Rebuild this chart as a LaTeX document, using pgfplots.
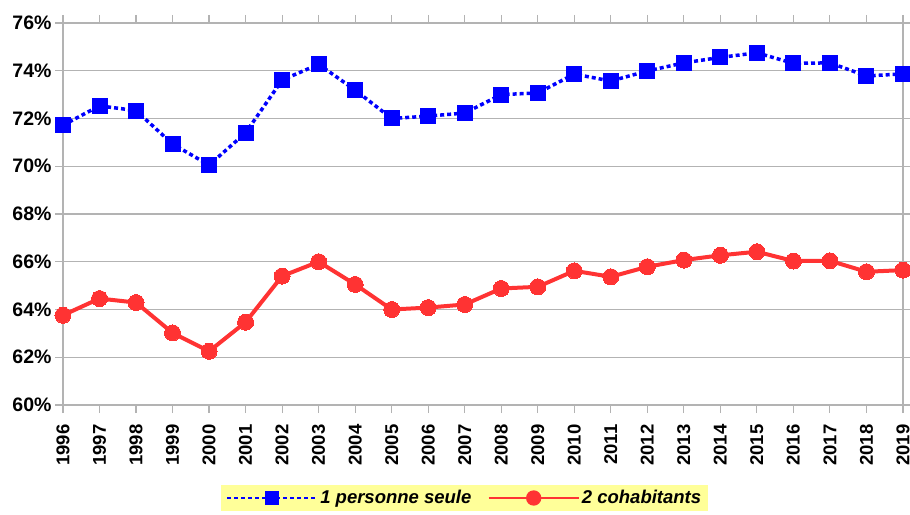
\documentclass[border=0pt]{standalone}
\usepackage{pgfplots}
\pgfplotsset{compat=1.18}
\usepackage{fontspec}
\setmainfont{Liberation Sans}
\definecolor{gridgray}{HTML}{B3B3B3}
\definecolor{serblue}{HTML}{0000FF}
\definecolor{serred}{HTML}{FF3333}
\definecolor{legyellow}{HTML}{FFFF99}
\begin{document}
\begin{tikzpicture}
\path[use as bounding box] (-63pt,-109pt) rectangle (847pt,405pt);
\begin{axis}[
  at={(0,0)}, anchor=south west,
  scale only axis, width=840pt, height=382pt,
  xmin=1996, xmax=2019, ymin=60, ymax=76,
  xtick={1996,...,2019}, ytick={60,62,...,76},
  /pgf/number format/1000 sep={},
  /pgf/number format/assume math mode=true,
  yticklabel={\pgfmathprintnumber{\tick}\%},
  axis line style={gridgray, line width=1.2pt},
  tick style={gridgray, line width=1.2pt},
  tick align=outside, major tick length=8pt,
  ymajorgrids, grid style={gridgray, line width=1.2pt},
  yticklabel style={font=\fontsize{19.5}{20}\selectfont\bfseries, xshift=0pt},
  xticklabel style={font=\fontsize{18.5}{19}\selectfont\bfseries, rotate=90, anchor=east, xshift=-8pt},
  legend columns=2,
  legend style={at={(401.5/840,-93/382)}, anchor=center, fill=legyellow, draw=none,
    font=\fontsize{18.5}{19}\selectfont\bfseries\itshape, inner xsep=5pt, inner ysep=4pt,
    /tikz/every even column/.append style={column sep=14pt}},
  legend image code/.code={\draw[mark repeat=2,mark phase=2,line width=2.5pt,mark options={scale=0.8,solid}] plot coordinates {(0pt,0pt) (45pt,0pt) (90pt,0pt)};},
  clip=false,
]
\addplot[color=serblue, line width=3.5pt, dash pattern=on 4pt off 3pt,
  mark=square*, mark size=7.5pt, mark options={solid, fill=serblue, draw=serblue, line width=0pt}]
  coordinates {
  (1996,71.72) (1997,72.53) (1998,72.33) (1999,70.93) (2000,70.05) (2001,71.40)
  (2002,73.61) (2003,74.27) (2004,73.19) (2005,72.00) (2006,72.10) (2007,72.23)
  (2008,73.00) (2009,73.07) (2010,73.86) (2011,73.57) (2012,73.99) (2013,74.33)
  (2014,74.56) (2015,74.75) (2016,74.31) (2017,74.33) (2018,73.78) (2019,73.87)};
\addlegendentry{1 personne seule}
\addplot[color=serred, line width=4pt,
  mark=*, mark size=8pt, mark options={solid, fill=serred, draw=serred, line width=0pt}]
  coordinates {
  (1996,63.76) (1997,64.46) (1998,64.29) (1999,63.02) (2000,62.25) (2001,63.47)
  (2002,65.40) (2003,66.00) (2004,65.05) (2005,64.00) (2006,64.08) (2007,64.21)
  (2008,64.88) (2009,64.95) (2010,65.62) (2011,65.37) (2012,65.79) (2013,66.07)
  (2014,66.27) (2015,66.42) (2016,66.03) (2017,66.04) (2018,65.58) (2019,65.65)};
\addlegendentry{2 cohabitants}
\end{axis}
\end{tikzpicture}
\end{document}
